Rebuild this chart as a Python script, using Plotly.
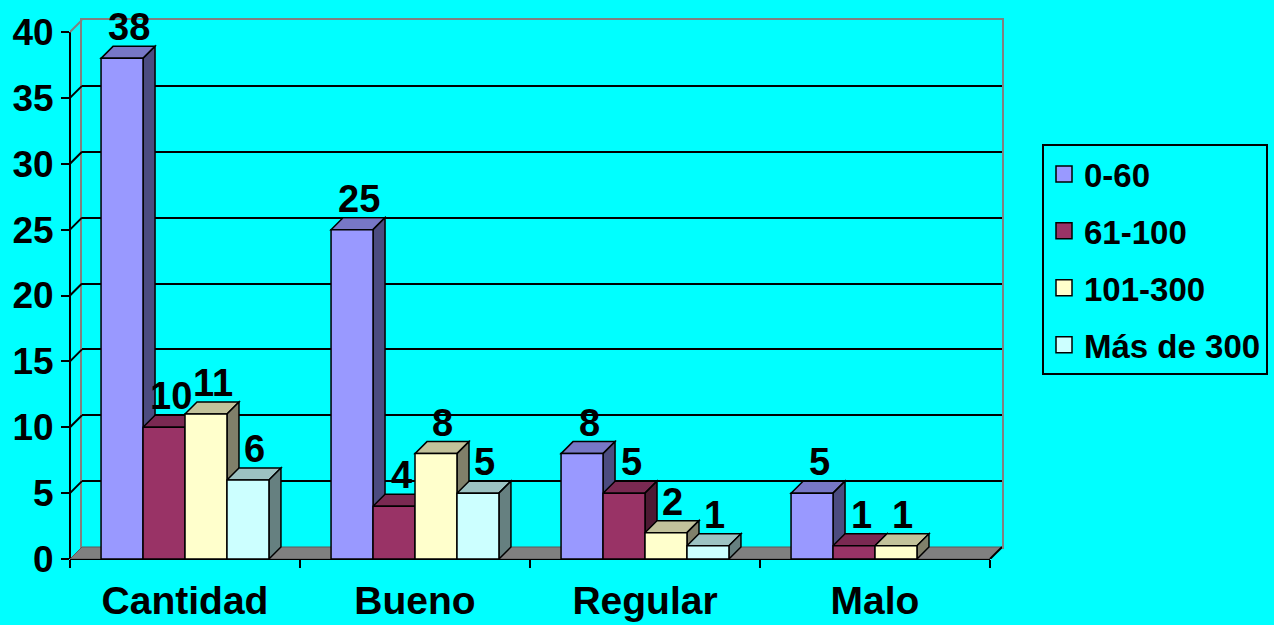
import plotly.graph_objects as go

# ---------------- data ----------------
categories = ["Cantidad", "Bueno", "Regular", "Malo"]
series_names = ["0-60", "61-100", "101-300", "Más de 300"]
vals_0_60 = [38, 25, 8, 5]
vals_61_100 = [10, 4, 5, 1]
vals_101_300 = [11, 8, 2, 1]
vals_mas_300 = [6, 5, 1, None]
y_tick_values = [0, 5, 10, 15, 20, 25, 30, 35, 40]

series_values = [vals_0_60, vals_61_100, vals_101_300, vals_mas_300]

# ---------------- styles ----------------
front_colors = ["#9999FF", "#993366", "#FFFFCC", "#CCFFFF"]
top_colors = ["#7777C6", "#7A2952", "#C2C29B", "#9CC2C2"]
side_colors = ["#4C4C80", "#4D1A33", "#80806A", "#668080"]
BG = "#00FFFF"
FONT = "Liberation Sans, Arial, sans-serif"

W, H = 1274, 625
ML, MR, MT, MB = 70, 272, 20, 66
plot_w = W - ML - MR          # 932
plot_h = H - MT - MB          # 539
cat_px = 230.0                # px per category on the front plane
unit_px = 527.0 / 40.0        # px per y unit on the front plane
depth_px = 12.0
dxu = depth_px / cat_px
dyu = depth_px / unit_px
bargap = 0.27
bar_w = (1 - bargap) / len(series_names)
n_cat = len(categories)

x_range = [-0.5, -0.5 + plot_w / cat_px]
y_range = [0, plot_h / unit_px]

fig = go.Figure()

# front bars
for i, (name, vals) in enumerate(zip(series_names, series_values)):
    fig.add_trace(go.Bar(
        x=categories, y=vals, name=name, xaxis="x2", yaxis="y2",
        marker=dict(color=front_colors[i], line=dict(color="black", width=1.5)),
        showlegend=False, hoverinfo="x+y+name",
    ))

# legend entries (bigger squares than the bar legend glyph)
for i, name in enumerate(series_names):
    fig.add_trace(go.Scatter(
        x=[None], y=[None], mode="markers", name=name, legendgroup=name,
        marker=dict(symbol="square", size=16, color=front_colors[i],
                    line=dict(color="black", width=1.5)),
        xaxis="x", yaxis="y",
    ))

shapes = []
# floor
shapes.append(dict(
    type="path", xref="x2", yref="y2", layer="below",
    path=(f"M {-0.5},0 L {n_cat - 0.5},0 L {n_cat - 0.5 + dxu},{dyu} "
          f"L {-0.5 + dxu},{dyu} Z"),
    fillcolor="#808080", line=dict(color="#5a5a5a", width=1),
))
# front-right floor edge
shapes.append(dict(
    type="line", xref="x2", yref="y2", layer="below",
    x0=n_cat - 0.5, y0=0, x1=n_cat - 0.5 + dxu, y1=dyu,
    line=dict(color="black", width=2),
))
# left side-wall diagonals
for v in y_tick_values[1:]:
    shapes.append(dict(
        type="line", xref="x2", yref="y2", layer="below",
        x0=-0.5, y0=v, x1=-0.5 + dxu, y1=v + dyu,
        line=dict(color="#808080" if v == y_tick_values[-1] else "black", width=2),
    ))
# front axis lines (stop at the front plane)
shapes.append(dict(
    type="line", xref="paper", yref="y2", layer="below",
    x0=0, y0=0, x1=0, y1=y_tick_values[-1],
    line=dict(color="black", width=2),
))
shapes.append(dict(
    type="line", xref="x2", yref="paper", layer="below",
    x0=-0.5, y0=0, x1=n_cat - 0.5, y1=0,
    line=dict(color="black", width=2),
))

annotations = []
for c in range(n_cat):
    for i, vals in enumerate(series_values):
        v = vals[c]
        if v is None:
            continue
        left = c - (1 - bargap) / 2 + i * bar_w
        right = left + bar_w
        # top face
        shapes.append(dict(
            type="path", xref="x2", yref="y2", layer="below",
            path=(f"M {left},{v} L {right},{v} L {right + dxu},{v + dyu} "
                  f"L {left + dxu},{v + dyu} Z"),
            fillcolor=top_colors[i], line=dict(color="black", width=1.5),
        ))
        # side face
        shapes.append(dict(
            type="path", xref="x2", yref="y2", layer="below",
            path=(f"M {right},0 L {right},{v} L {right + dxu},{v + dyu} "
                  f"L {right + dxu},{dyu} Z"),
            fillcolor=side_colors[i], line=dict(color="black", width=1.5),
        ))
        annotations.append(dict(
            x=(left + right) / 2, y=v, xref="x2", yref="y2",
            text=str(v), showarrow=False, xanchor="center", yanchor="bottom",
            xshift=7, yshift=8,
            font=dict(family=FONT, size=38, color="black", weight="bold"),
        ))

fig.update_layout(
    template="none",
    width=W, height=H,
    margin=dict(l=ML, r=MR, t=MT, b=MB, autoexpand=False),
    paper_bgcolor=BG, plot_bgcolor="rgba(0,0,0,0)",
    barmode="group", bargap=bargap, bargroupgap=0,
    shapes=shapes, annotations=annotations,
    font=dict(family=FONT, color="black"),
    # back wall
    xaxis=dict(domain=[depth_px / plot_w, 1], anchor="y", range=[0, 1],
               showline=True, linecolor="#808080", linewidth=2, mirror=True,
               showgrid=False, zeroline=False, showticklabels=False, ticks=""),
    yaxis=dict(domain=[depth_px / plot_h, 1], anchor="x", range=[0, 40],
               showline=True, linecolor="#808080", linewidth=2, mirror=True,
               showgrid=True, gridcolor="black", gridwidth=2, dtick=5, tick0=0,
               zeroline=False, showticklabels=False, ticks=""),
    # front plane
    xaxis2=dict(domain=[0, 1], anchor="y2", type="category",
                categoryorder="array", categoryarray=categories,
                range=x_range, tickson="boundaries", ticks="outside",
                ticklen=8, tickwidth=2, tickcolor="black",
                showline=False, showgrid=False, zeroline=False,
                ticklabelstandoff=15,
                tickfont=dict(family=FONT, size=39, color="black", weight="bold")),
    yaxis2=dict(domain=[0, 1], anchor="x2", range=y_range,
                tickvals=y_tick_values, ticks="outside",
                ticklen=8, tickwidth=2, tickcolor="black",
                showline=False, showgrid=False, zeroline=False,
                tickfont=dict(family=FONT, size=37, color="black", weight="bold")),
    legend=dict(
        xref="container", yref="container", x=1042 / W, y=1 - 144 / H,
        xanchor="left", yanchor="top",
        bgcolor=BG, bordercolor="black", borderwidth=2,
        font=dict(family=FONT, size=33, color="black", weight="bold"),
        tracegroupgap=11, traceorder="grouped",
    ),
)

fig.write_html("out.html")
